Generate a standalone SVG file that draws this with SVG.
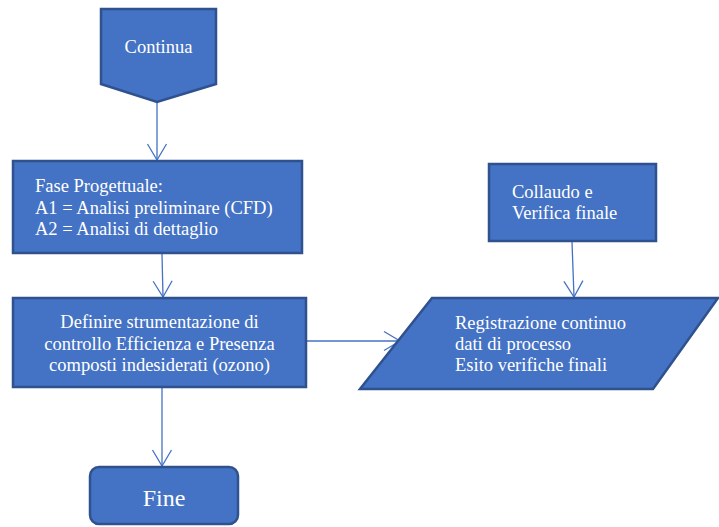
<svg xmlns="http://www.w3.org/2000/svg" width="719" height="527" viewBox="0 0 719 527">
<style>
.shape{fill:#4472C4;stroke:#2F528F;stroke-width:2.5}
.t{font-family:'Liberation Serif',Tinos,'Times New Roman',Times,serif;font-size:18.5px;fill:#FFFFFF}
.c{fill:none;stroke:#4472C4;stroke-width:1.3}
</style>
<defs>
<marker id="arr" markerUnits="userSpaceOnUse" markerWidth="20" markerHeight="22" viewBox="-18 -11 20 22" refX="0" refY="0" orient="auto">
<path d="M-16,-9.5 L0,0 L-16,9.5" fill="none" stroke="#4472C4" stroke-width="1.3"/>
</marker>
</defs>
<rect width="719" height="527" fill="#FFFFFF"/>
<g id="connectors">
<line class="c" x1="157" y1="103" x2="157" y2="160" marker-end="url(#arr)"/>
<line class="c" x1="162" y1="254" x2="163" y2="297" marker-end="url(#arr)"/>
<line class="c" x1="307" y1="341" x2="400" y2="341" marker-end="url(#arr)"/>
<line class="c" x1="572" y1="242" x2="574" y2="297" marker-end="url(#arr)"/>
<line class="c" x1="162" y1="388" x2="162" y2="466" marker-end="url(#arr)"/>
</g>
<g id="continua">
<polygon class="shape" points="101,9 216,9 216,84 157,102 101,84"/>
<text class="t" x="158.5" y="53" text-anchor="middle">Continua</text>
</g>
<g id="fase">
<rect class="shape" x="13" y="161" width="289" height="92"/>
<text class="t" x="35" y="192">Fase Progettuale:</text>
<text class="t" x="35" y="214">A1 = Analisi preliminare (CFD)</text>
<text class="t" x="35" y="235">A2 = Analisi di dettaglio</text>
</g>
<g id="definire">
<rect class="shape" x="13" y="298" width="293" height="89"/>
<text class="t" x="159.5" y="328" text-anchor="middle">Definire strumentazione di</text>
<text class="t" x="159.5" y="350" text-anchor="middle">controllo Efficienza e Presenza</text>
<text class="t" x="159.5" y="371" text-anchor="middle">composti indesiderati (ozono)</text>
</g>
<g id="collaudo">
<rect class="shape" x="489" y="164" width="167" height="77"/>
<text class="t" x="512" y="198">Collaudo e</text>
<text class="t" x="512" y="219">Verifica finale</text>
</g>
<g id="registrazione">
<polygon class="shape" points="432,298 718,298 653,389 360,389"/>
<text class="t" x="455" y="329">Registrazione continuo</text>
<text class="t" x="455" y="350">dati di processo</text>
<text class="t" x="455" y="371">Esito verifiche finali</text>
</g>
<g id="fine">
<rect class="shape" x="90" y="467" width="148" height="57" rx="9" ry="9"/>
<text class="t" x="164" y="506" text-anchor="middle" style="font-size:24px">Fine</text>
</g>
</svg>
